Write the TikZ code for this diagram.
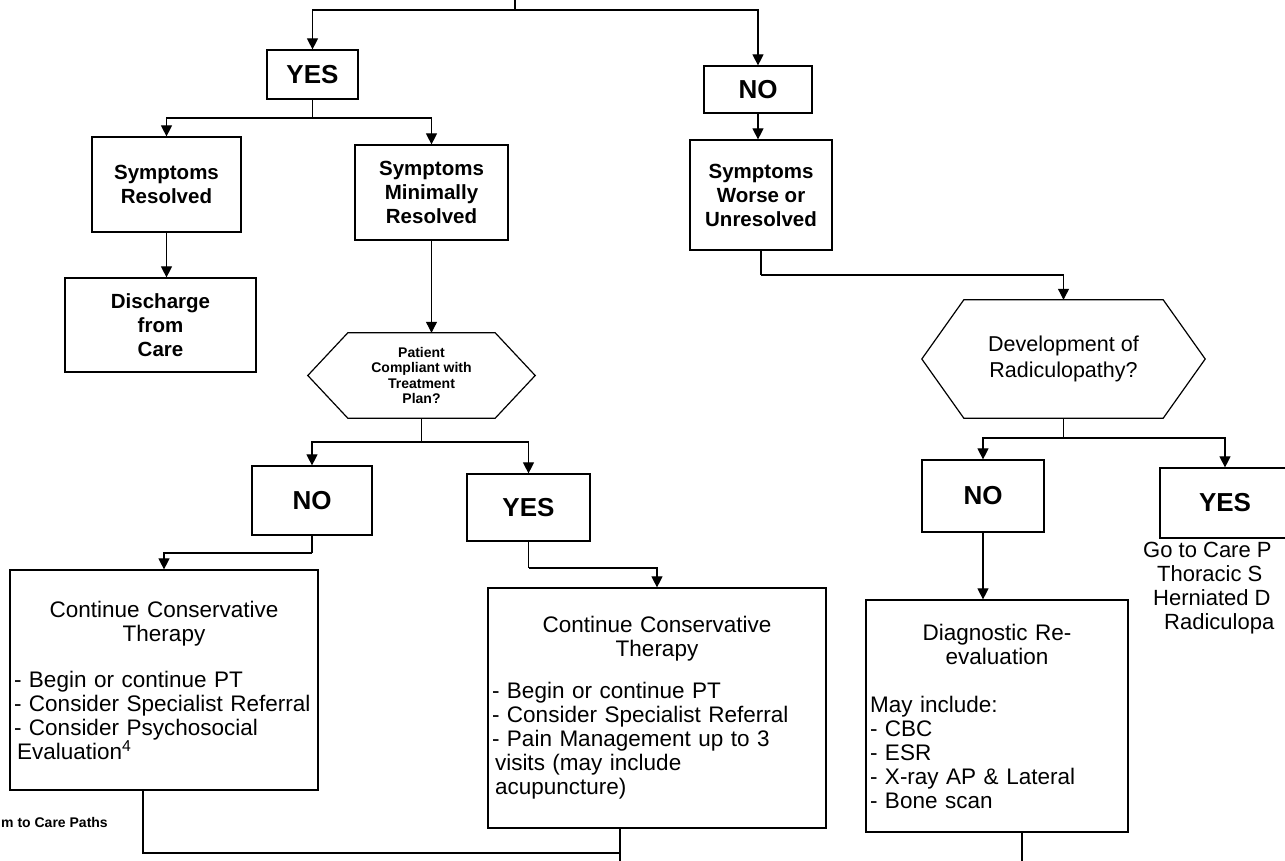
\documentclass[tikz,border=0pt]{standalone}
\usepackage{fontspec}
\setmainfont{Liberation Sans}
\usetikzlibrary{arrows.meta,calc}

\tikzset{
  box/.style={draw, line width=1.2pt, inner sep=3pt, align=center},
  answer/.style={box, font=\fontsize{26}{30}\selectfont\bfseries},
  state/.style={box, font=\fontsize{20.5}{24}\selectfont\bfseries},
  listbox/.style={draw, line width=1.2pt, inner sep=4pt, font=\fontsize{22.5}{24}\selectfont},
  hexnode/.style={inner sep=0pt, align=center},
  hexline/.style={line width=1.2pt},
  link/.style={line width=1.1pt},
  arr/.style={link, -{Triangle[width=11pt,length=11pt]}},
}

\begin{document}
\begin{tikzpicture}[x=1pt, y=-1pt]
\useasboundingbox (0,0) rectangle (1285,861);
\clip (0,0) rectangle (1285,861);

% first split
\node[answer, minimum width=91pt, minimum height=49pt] (yes1) at (312.5,74.5) {YES};
\node[answer, minimum width=108pt, minimum height=47pt] (no1) at (758,89.5) {NO};

% outcomes
\node[state, minimum width=149pt, minimum height=95pt] (sr) at (166.5,184.5) {Symptoms\\Resolved};
\node[state, minimum width=153pt, minimum height=95pt] (smr) at (431.5,192.5) {Symptoms\\Minimally\\Resolved};
\node[state, minimum width=191pt, minimum height=94pt] (dis) at (160.5,325) {Discharge\\from\\Care};
\node[state, minimum width=142pt, minimum height=110pt] (sw) at (761,195) {Symptoms\\Worse or\\Unresolved};

% decisions
\node[hexnode, minimum width=227pt, minimum height=85pt, font=\fontsize{14}{15.5}\selectfont\bfseries] (hex1) at (421.5,375.5) {Patient\\Compliant with\\Treatment\\Plan?};
\draw[hexline] (hex1.west) -- ([xshift=40pt]hex1.north west) -- ([xshift=-40pt]hex1.north east) -- (hex1.east) -- ([xshift=-40pt]hex1.south east) -- ([xshift=40pt]hex1.south west) -- cycle;

\node[hexnode, minimum width=283pt, minimum height=118pt, font=\fontsize{21.5}{26}\selectfont] (hex2) at (1063.5,359) {Development of\\Radiculopathy?};
\draw[hexline] (hex2.west) -- ([xshift=42pt]hex2.north west) -- ([xshift=-42pt]hex2.north east) -- (hex2.east) -- ([xshift=-42pt]hex2.south east) -- ([xshift=42pt]hex2.south west) -- cycle;

\node[answer, minimum width=120pt, minimum height=69pt] (no2) at (312,500.5) {NO};
\node[answer, minimum width=123pt, minimum height=67pt] (yes2) at (528.5,507.5) {YES};
\node[answer, minimum width=122pt, minimum height=72pt] (no3) at (983,496) {NO};
\node[answer, minimum width=130pt, minimum height=70pt] (yes3) at (1225,503) {YES};
\node[font=\fontsize{22}{24}\selectfont, align=left, anchor=north west, inner sep=0pt] (yes3txt) at (1143,542)
  {Go to Care P\\\hspace*{14pt}Thoracic S\\\hspace*{10pt}Herniated D\\\hspace*{21pt}Radiculopa};

% actions
\node[listbox, minimum width=308pt, minimum height=220pt, text width=300pt] (cct1) at (164,680)
  {{\centering Continue Conservative\\Therapy\par}\vspace{22pt}%
   {\raggedright - Begin or continue PT\\- Consider Specialist Referral\\- Consider Psychosocial\\\hspace*{3pt}Evaluation\textsuperscript{4}\par}};
\node[listbox, minimum width=338pt, minimum height=240pt, text width=330pt] (cct2) at (657,708)
  {{\centering Continue Conservative\\Therapy\par}\vspace{18pt}%
   {\raggedright - Begin or continue PT\\- Consider Specialist Referral\\- Pain Management up to 3\\\hspace*{3pt}visits (may include\\\hspace*{3pt}acupuncture)\par}};
\node[listbox, minimum width=262pt, minimum height=232pt, text width=254pt] (diag) at (997,716)
  {{\centering Diagnostic Re-\\evaluation\par}\vspace{24pt}%
   {\raggedright May include:\\- CBC\\- ESR\\- X-ray AP \& Lateral\\- Bone scan\par}};

\node[font=\fontsize{14}{16}\selectfont\bfseries, anchor=west, inner sep=0pt] (ret) at (1,822) {m to Care Paths};

% connectors
\coordinate (top) at (515,-5);
\coordinate (j0) at (515,10);
\draw[link] (top) -- (j0);
\draw[arr] (j0) -| (yes1);
\draw[arr] (j0) -| (no1);

\coordinate (j1) at (312.5,118);
\draw[link] (yes1) -- (j1);
\draw[arr] (j1) -| (sr);
\draw[arr] (j1) -| (smr);

\draw[arr] (sr.south) -- (sr.south |- dis.north);
\draw[arr] (smr.south) -- (smr.south |- hex1.north);
\draw[arr] (no1) -- (no1.south |- sw.north);

\coordinate (j5) at (761,275);
\draw[link] (sw) -- (j5);
\draw[arr] (j5) -| (hex2);

\coordinate (j2) at (421.5,442);
\draw[link] (hex1) -- (j2);
\draw[arr] (j2) -| (no2);
\draw[arr] (j2) -| (yes2);

\coordinate (j6) at (1063.5,438);
\draw[link] (hex2) -- (j6);
\draw[arr] (j6) -| (no3);
\draw[arr] (j6) -| (yes3);

\coordinate (j3) at (312,553);
\draw[link] (no2) -- (j3);
\draw[arr] (j3) -| (cct1);

\coordinate (j4) at (528.5,568);
\draw[link] (yes2) -- (j4);
\draw[arr] (j4) -| (cct2);

\draw[arr] (no3.south) -- (no3.south |- diag.north);

\coordinate (b1) at (143,853);
\coordinate (b2) at (620,875);
\coordinate (b3) at (1022,875);
\draw[link] (cct1.south -| b1) -- (b1) -| (b2);
\draw[link] (cct2.south -| b2) -- (b2);
\draw[link] (diag.south -| b3) -- (b3);
\end{tikzpicture}
\end{document}
